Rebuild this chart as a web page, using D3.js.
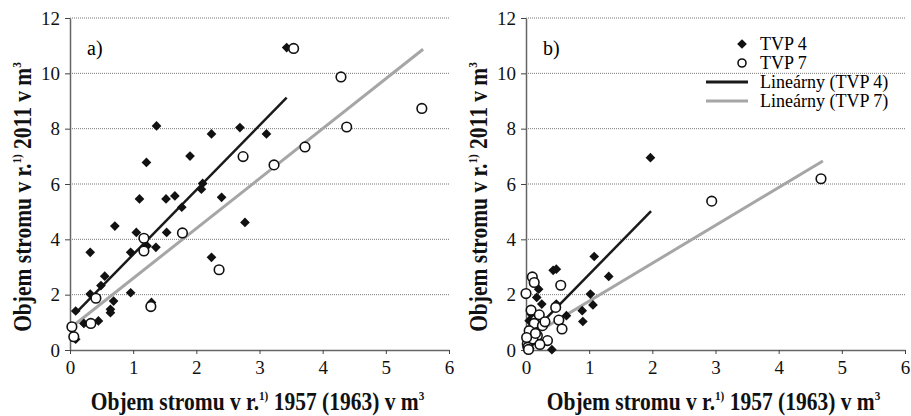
<!DOCTYPE html>
<html>
<head>
<meta charset="utf-8">
<script src="https://cdn.jsdelivr.net/npm/d3@7"></script>
<style>
  body { margin: 0; background: #fff; }
</style>
</head>
<body>
<svg width="911" height="416"></svg>
<script>
// panel a) TVP 4 points [x, y]
const a4 = [
  [3.43, 10.93], [1.37, 8.10], [2.69, 8.04], [2.24, 7.81], [3.11, 7.81],
  [1.90, 7.01], [1.21, 6.78], [2.10, 6.02], [2.08, 5.81], [1.10, 5.46],
  [1.52, 5.46], [1.66, 5.57], [2.40, 5.52], [1.77, 5.16], [2.77, 4.61],
  [0.71, 4.48], [1.05, 4.25], [1.53, 4.25], [0.96, 3.53], [0.32, 3.53],
  [1.22, 3.76], [1.36, 3.71], [2.24, 3.35], [0.55, 2.67], [0.49, 2.33],
  [0.32, 2.02], [0.96, 2.07], [0.69, 1.77], [0.64, 1.47], [0.64, 1.35],
  [0.09, 1.41], [1.29, 1.72], [0.22, 0.96], [0.45, 1.05], [0.09, 0.39]
];
// panel a) TVP 7 points
const a7 = [
  [3.54, 10.90], [4.29, 9.87], [5.57, 8.73], [4.38, 8.06], [2.74, 6.99],
  [3.72, 7.34], [3.23, 6.69], [1.78, 4.23], [1.17, 4.04], [1.17, 3.58],
  [2.36, 2.90], [1.28, 1.57], [0.41, 1.87], [0.33, 0.96], [0.03, 0.84],
  [0.06, 0.48]
];
// panel b) TVP 4 points
const b4 = [
  [1.97, 6.95], [1.08, 3.38], [0.43, 2.88], [0.48, 2.92], [1.31, 2.66],
  [0.20, 2.20], [0.17, 1.90], [0.25, 1.66], [1.02, 2.02], [1.06, 1.63],
  [0.89, 1.42], [0.90, 1.03], [0.48, 1.66], [0.64, 1.24], [0.08, 1.30],
  [0.05, 1.06], [0.41, 0.01], [0.03, 0.20], [0.05, 0.35], [0.08, 0.55],
  [0.06, 0.05], [0.12, 0.80], [0.15, 1.00], [0.02, 0.10], [0.10, 0.30]
];
// panel b) TVP 7 points
const b7 = [
  [4.67, 6.19], [2.94, 5.38], [0.55, 2.34], [0.10, 2.64], [0.13, 2.44],
  [0.00, 2.04], [0.47, 1.54], [0.08, 1.44], [0.21, 1.27], [0.52, 1.08],
  [0.57, 0.76], [0.13, 0.96], [0.05, 0.70], [0.18, 0.52], [0.34, 0.34],
  [0.08, 0.34], [0.02, 0.22], [0.03, 0.10], [0.11, 0.40], [0.26, 0.88],
  [0.15, 0.60], [0.04, 0.02], [0.22, 0.20], [0.01, 0.45], [0.30, 1.02]
];
// trend line endpoints
const a4Trend = [[0.09, 1.33], [3.43, 9.12]];
const a7Trend = [[0.03, 0.84], [5.59, 10.87]];
const b4Trend = [[0.0, 0.40], [1.98, 5.02]];
const b7Trend = [[0.0, 0.40], [4.70, 6.83]];

const xTicks = [0, 1, 2, 3, 4, 5, 6];
const yTicks = [0, 2, 4, 6, 8, 10, 12];
const legendLabels = ["TVP 4", "TVP 7", "Lineárny (TVP 4)", "Lineárny (TVP 7)"];

const serif = "'Liberation Serif', 'Times New Roman', Times, serif";
const svg = d3.select("svg");

// bold, slightly condensed axis title with superscripts
function axisTitle(parent, transform, mid) {
  const t = parent.append("g").attr("transform", transform)
    .append("text")
    .attr("text-anchor", "middle")
    .attr("font-size", 25).attr("font-weight", "bold")
    .style("fill", "#111");
  t.append("tspan").text("Objem stromu v r.");
  t.append("tspan").attr("dy", -10).attr("font-size", 13).text("1)");
  t.append("tspan").attr("dy", 10).text(mid + " v m");
  t.append("tspan").attr("dy", -10).attr("font-size", 13).text("3");
}

function drawPanel(left, right, label, p4, p7, t4, t7, legend) {
  const x = d3.scaleLinear().domain([0, 6]).range([left, right]);
  const y = d3.scaleLinear().domain([0, 12]).range([350, 18]);
  const g = svg.append("g").attr("font-family", serif);

  // grid lines
  g.selectAll("line.grid")
    .data(yTicks.filter(d => d > 0))
    .enter().append("line")
    .attr("x1", left).attr("x2", right)
    .attr("y1", d => y(d)).attr("y2", d => y(d))
    .style("stroke", "#777")
    .style("stroke-width", 1)
    .style("stroke-dasharray", "1,1");

  // axes
  const yAxis = g.append("g")
    .attr("transform", `translate(${left},0)`)
    .call(d3.axisLeft(y).tickValues(yTicks).tickFormat(d3.format("d")).tickSize(5).tickSizeOuter(0));
  const xAxis = g.append("g")
    .attr("transform", `translate(0,${y(0)})`)
    .call(d3.axisBottom(x).tickValues(xTicks).tickFormat(d3.format("d")).tickSize(4).tickSizeOuter(0));
  [yAxis, xAxis].forEach(ax => {
    ax.attr("font-family", serif).attr("font-size", 19);
    ax.select(".domain").style("stroke", "#666").style("stroke-width", 1.5);
    ax.selectAll(".tick line").style("stroke", "#444");
    ax.selectAll("text").style("fill", "#111");
  });
  yAxis.selectAll("text").attr("x", -10);
  xAxis.selectAll("text").attr("y", 11);

  // trend lines
  const line = d3.line().x(d => x(d[0])).y(d => y(d[1]));
  g.append("path").datum(t7).attr("d", line)
    .style("fill", "none").style("stroke", "#a6a6a6").style("stroke-width", 3);
  g.append("path").datum(t4).attr("d", line)
    .style("fill", "none").style("stroke", "#1a1a1a").style("stroke-width", 2.5);

  // points
  const diamond = d3.symbol().type(d3.symbolDiamond2).size(60);
  g.selectAll("path.d4")
    .data(p4)
    .enter().append("path")
    .attr("d", diamond)
    .attr("transform", d => `translate(${x(d[0])},${y(d[1])})`)
    .style("fill", "#111");
  g.selectAll("circle.c7")
    .data(p7)
    .enter().append("circle")
    .attr("cx", d => x(d[0]))
    .attr("cy", d => y(d[1]))
    .attr("r", 4.8)
    .style("fill", "#fff")
    .style("stroke", "#111")
    .style("stroke-width", 1.6);

  // panel label
  g.append("text")
    .attr("x", left + 17).attr("y", 55)
    .attr("font-size", 20)
    .text(label);

  // axis titles
  const cx = (left + right) / 2 - 2;
  axisTitle(g, `translate(${cx},410) scale(0.86,1)`, " 1957 (1963)");
  axisTitle(g, `translate(${left - 39},197) rotate(-90) scale(0.86,1)`, " 2011");

  if (legend) {
    const lg = g.append("g");
    const rows = [44, 63, 82, 101];
    legendLabels.forEach((t, i) => {
      lg.append("text")
        .attr("x", 760).attr("y", rows[i] + 6)
        .attr("font-size", 18)
        .text(t);
    });
    lg.append("path").attr("d", diamond)
      .attr("transform", `translate(742,${rows[0]})`).style("fill", "#111");
    lg.append("circle").attr("cx", 742).attr("cy", rows[1]).attr("r", 4)
      .style("fill", "#fff").style("stroke", "#111").style("stroke-width", 1.6);
    lg.append("line").attr("x1", 706).attr("x2", 748)
      .attr("y1", rows[2]).attr("y2", rows[2])
      .style("stroke", "#1a1a1a").style("stroke-width", 3);
    lg.append("line").attr("x1", 706).attr("x2", 748)
      .attr("y1", rows[3]).attr("y2", rows[3])
      .style("stroke", "#a6a6a6").style("stroke-width", 3);
  }
}

drawPanel(70, 449, "a)", a4, a7, a4Trend, a7Trend, false);
drawPanel(526, 905, "b)", b4, b7, b4Trend, b7Trend, true);
</script>
</body>
</html>
